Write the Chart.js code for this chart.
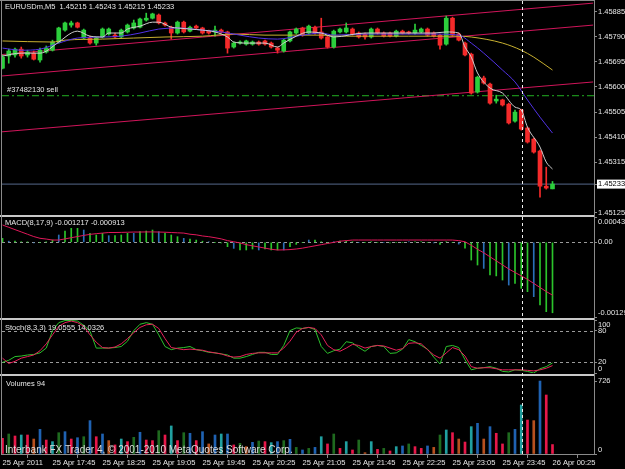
<!DOCTYPE html>
<html>
<head>
<meta charset="utf-8">
<script src="https://cdn.jsdelivr.net/npm/chart.js@4.4.1/dist/chart.umd.min.js"></script>
<style>
  html, body { margin: 0; padding: 0; background: #000; }
  #wrap { position: relative; width: 625px; height: 469px; background: #000; overflow: hidden; }
  #wrap canvas { position: absolute; left: 0; top: 0; }
</style>
</head>
<body>
<div id="wrap">
  <canvas id="cMain" width="625" height="469"></canvas>
  <canvas id="cMacd" width="625" height="469"></canvas>
  <canvas id="cStoch" width="625" height="469"></canvas>
  <canvas id="cVol" width="625" height="469"></canvas>
</div>
<script>
/* ---- data (EURUSDm M5, 25 Apr 17:05 -> 26 Apr 00:25) ---- */
const timeTickIdx = [0, 8, 16, 24, 32, 40, 48, 56, 64, 72, 80, 88];
const timeTickLabels = ['25 Apr 2011', '25 Apr 17:45', '25 Apr 18:25', '25 Apr 19:05', '25 Apr 19:45', '25 Apr 20:25',
  '25 Apr 21:05', '25 Apr 21:45', '25 Apr 22:25', '25 Apr 23:05', '25 Apr 23:45', '26 Apr 00:25'];

const opens = [
  1.45671,1.45717,1.45721,1.45743,1.45721,1.45728,1.45702,1.45732,1.45739,1.45770,
  1.45815,1.45834,1.45842,1.45785,1.45785,1.45766,1.45789,1.45800,1.45796,1.45789,
  1.45808,1.45823,1.45826,1.45853,1.45860,1.45872,1.45842,1.45826,1.45804,1.45845,
  1.45811,1.45830,1.45823,1.45811,1.45808,1.45815,1.45808,1.45751,1.45766,1.45762,
  1.45762,1.45770,1.45774,1.45766,1.45747,1.45736,1.45774,1.45804,1.45823,1.45804,
  1.45826,1.45808,1.45789,1.45751,1.45808,1.45808,1.45819,1.45804,1.45800,1.45789,
  1.45819,1.45804,1.45804,1.45792,1.45811,1.45808,1.45804,1.45808,1.45819,1.45804,
  1.45796,1.45762,1.45860,1.45800,1.45766,1.45724,1.45581,1.45634,1.45611,1.45547,
  1.45551,1.45535,1.45471,1.45513,1.45445,1.45403,1.45358,1.45225,1.45215];
const highs = [
  1.45721,1.45743,1.45747,1.45751,1.45739,1.45736,1.45747,1.45755,1.45777,1.45826,
  1.45845,1.45849,1.45845,1.45819,1.45792,1.45789,1.45823,1.45823,1.45804,1.45819,
  1.45838,1.45853,1.45860,1.45879,1.45879,1.45876,1.45845,1.45830,1.45849,1.45849,
  1.45830,1.45834,1.45826,1.45815,1.45830,1.45819,1.45811,1.45770,1.45774,1.45777,
  1.45774,1.45774,1.45777,1.45770,1.45751,1.45781,1.45811,1.45823,1.45826,1.45834,
  1.45830,1.45860,1.45792,1.45815,1.45823,1.45842,1.45823,1.45808,1.45804,1.45823,
  1.45823,1.45808,1.45808,1.45815,1.45815,1.45811,1.45838,1.45823,1.45823,1.45808,
  1.45800,1.45868,1.45864,1.45804,1.45770,1.45728,1.45641,1.45641,1.45615,1.45569,
  1.45554,1.45539,1.45513,1.45516,1.45448,1.45407,1.45362,1.45297,1.45243];
const lows = [
  1.45668,1.45690,1.45713,1.45709,1.45713,1.45702,1.45694,1.45728,1.45736,1.45766,
  1.45811,1.45826,1.45823,1.45781,1.45762,1.45758,1.45785,1.45796,1.45785,1.45785,
  1.45804,1.45819,1.45823,1.45849,1.45857,1.45838,1.45830,1.45781,1.45800,1.45804,
  1.45808,1.45819,1.45800,1.45800,1.45792,1.45804,1.45728,1.45747,1.45762,1.45758,
  1.45758,1.45758,1.45758,1.45747,1.45728,1.45732,1.45770,1.45800,1.45792,1.45800,
  1.45800,1.45781,1.45747,1.45747,1.45804,1.45804,1.45796,1.45785,1.45781,1.45785,
  1.45800,1.45789,1.45789,1.45789,1.45800,1.45800,1.45800,1.45804,1.45792,1.45789,
  1.45743,1.45758,1.45792,1.45774,1.45717,1.45573,1.45577,1.45611,1.45535,1.45539,
  1.45528,1.45460,1.45467,1.45437,1.45388,1.45350,1.45184,1.45214,1.45215];
const closes = [
  1.45713,1.45736,1.45743,1.45717,1.45732,1.45705,1.45739,1.45747,1.45770,1.45823,
  1.45842,1.45842,1.45826,1.45815,1.45766,1.45785,1.45819,1.45819,1.45789,1.45815,
  1.45834,1.45842,1.45857,1.45860,1.45876,1.45842,1.45834,1.45804,1.45845,1.45808,
  1.45826,1.45823,1.45804,1.45804,1.45815,1.45808,1.45747,1.45766,1.45770,1.45774,
  1.45770,1.45762,1.45762,1.45751,1.45739,1.45777,1.45808,1.45819,1.45796,1.45830,
  1.45804,1.45785,1.45751,1.45811,1.45819,1.45823,1.45800,1.45789,1.45789,1.45819,
  1.45804,1.45792,1.45792,1.45811,1.45804,1.45804,1.45815,1.45819,1.45796,1.45792,
  1.45758,1.45860,1.45796,1.45777,1.45721,1.45577,1.45637,1.45615,1.45539,1.45554,
  1.45532,1.45464,1.45505,1.45441,1.45392,1.45354,1.45225,1.45218,1.45233];

// moving averages, read at selected bars
const maFastBars = [0,3,6,9,11,12,14,16,17,19,20,22,24,25,27,28,30,32,34,36,37,39,42,44,45,47,49,51,53,58,64,69,71,73,74,75,76,78,80,82,83,84,86,87,88];
const maFast = [1.45717,1.45728,1.45728,1.45770,1.45804,1.45811,1.45792,1.45789,1.45804,1.45804,
  1.45819,1.45830,1.45845,1.45845,1.45826,1.45823,1.45819,1.45815,1.45808,1.45789,
  1.45770,1.45766,1.45766,1.45751,1.45766,1.45792,1.45808,1.45804,1.45789,1.45804,
  1.45804,1.45804,1.45808,1.45804,1.45751,1.45713,1.45653,1.45596,1.45577,1.45524,
  1.45513,1.45448,1.45373,1.45316,1.45290];
const maMidBars = [0,3,6,9,12,16,19,22,25,28,32,35,38,41,44,48,51,53,58,64,69,73,75,77,80,82,84,86,88];
const maMid = [1.45747,1.45739,1.45743,1.45766,1.45785,1.45789,1.45792,1.45804,1.45819,1.45823,
  1.45815,1.45808,1.45796,1.45785,1.45781,1.45796,1.45804,1.45796,1.45800,1.45800,
  1.45800,1.45796,1.45766,1.45728,1.45664,1.45619,1.45551,1.45486,1.45426];
const maSlowBars = [0,8,10,16,21,26,32,37,42,51,55,65,73,75,80,83,85,88];
const maSlow = [1.45774,1.45770,1.45777,1.45781,1.45785,1.45789,1.45792,1.45800,1.45796,1.45796,
  1.45792,1.45792,1.45792,1.45789,1.45766,1.45739,1.45713,1.45664];

// channel lines (price at left edge / right edge)
const chanX = [-0.4, 94.5];
const chanStart = [1.45722, 1.45641, 1.45430];
const chanEnd = [1.45917, 1.45834, 1.45619];
const orderPrice = 1.45567;
const bidPrice = 1.45233;
const cursorBar = 83.07;

const priceTicks = [1.45125, 1.45233, 1.45315, 1.45410, 1.45505, 1.45600, 1.45695, 1.45790, 1.45885];

const macdHist = [
  0.000069,0.00002,0.00002,0.00001,0.000005,-0.00001,0,0.000005,0.00004,0.000127,
  0.000196,0.000242,0.000242,0.000213,0.000156,0.000127,0.000156,0.000115,0.000115,0.000127,
  0.000156,0.000156,0.000184,0.000196,0.000213,0.000184,0.000156,0.000127,0.000098,0.000069,
  0.000058,0.00004,0.00002,0.00001,0,-0.00001,-0.000075,-0.000104,-0.000132,-0.000132,
  -0.000115,-0.000132,-0.000115,-0.000132,-0.000132,-0.000132,-0.000075,-0.000035,0,0.00004,
  0.00004,0.00001,-0.00001,0.00001,0.00002,0.00002,0.00001,0,0,0.00001,
  0,0,-0.00001,0,0,0.00001,0.00001,0.00001,0,-0.00001,
  -0.000035,0.00001,0,-0.00003,-0.0001,-0.000306,-0.000392,-0.00045,-0.000565,-0.00058,
  -0.000651,-0.000738,-0.000708,-0.000795,-0.000852,-0.000939,-0.001083,-0.001198,-0.001217];
const macdSignal = [
  0.00030,0.00026,0.00022,0.00018,0.00014,0.00010,0.00007,0.000057,0.00004,0.00004,
  0.00006,0.00008,0.0001,0.00012,0.000138,0.00015,0.00016,0.00017,0.00017,0.000172,
  0.000175,0.000178,0.000178,0.00018,0.00018,0.000178,0.000175,0.00017,0.000165,0.00016,
  0.00014,0.00013,0.00011,0.000098,0.00008,0.00006,0.00003,0.00001,-0.00001,-0.00004,
  -0.00006,-0.00008,-0.0001,-0.00012,-0.000132,-0.00013,-0.000125,-0.000115,-0.0001,-0.00008,
  -0.00006,-0.00004,-0.00002,0,0.00002,0.00003,0.00004,0.00004,0.00004,0.00004,
  0.00004,0.00004,0.00004,0.00004,0.00004,0.00004,0.00004,0.00004,0.00004,0.00004,
  0.00004,0.00004,0.00004,0.00003,0.00001,-0.00005,-0.00012,-0.00018,-0.00025,-0.00032,
  -0.00039,-0.00046,-0.00052,-0.00058,-0.00064,-0.00071,-0.00078,-0.00085,-0.000913];
const macdTicks = [-0.00129, 0, 0.000438];
const macdTickLabels = ['-0.00129', '0.00', '0.000438'];

const stochMain = [
  20,24,31,32,34,35,38,47,80,95,
  99,99,98,90,79,47,47,47,48,50,
  60,80,92,95,92,72,50,44,47,48,
  50,44,42,39,38,36,34,28,28,31,
  35,39,39,35,35,52,80,85,84,86,
  82,50,37,42,45,59,57,48,41,50,
  52,50,37,38,45,63,59,52,45,30,
  17,50,52,48,25,6,9,10,12,9,
  3,2,6,5,3,0,8,12,19];
const stochSignal = [
  28,18,22,28,31,34,42,55,72,88,
  95,98,95,88,72,58,48,47,49,55,
  65,76,86,91,92,84,65,48,46,44,
  45,44,43,40,38,36,32,30,31,35,
  37,38,38,38,38,47,60,77,84,86,
  84,72,52,44,41,47,54,52,47,50,
  52,51,47,43,46,56,57,55,44,34,
  28,38,48,44,32,12,9,10,10,8,
  6,6,6,6,5,4,6,9,14];
const stochTicks = [0, 20, 80, 100];
const stochLevels = [20, 80];

const volumes = [
  156,199,179,189,189,149,245,139,123,212,
  222,149,162,172,332,172,199,133,90,149,
  123,166,216,139,133,232,189,279,133,212,
  206,133,222,100,189,199,199,90,106,73,
  116,129,123,113,123,133,146,66,40,56,
  66,172,100,199,56,123,40,139,13,123,
  46,56,30,73,80,100,73,56,80,66,
  189,239,212,149,119,272,305,149,272,206,
  100,212,245,488,338,332,726,587,94];
const volTicks = [0, 726];

/* ---- styles ---- */
const UP = '#2ccf3c', DOWN = '#f42a2a';
const TXT = '#e6e6e6', AXIS = '#8a8a8a';
const FONT = '"Liberation Sans", Arial, sans-serif';
const volColorKeys = ('rgrtrobrtg' + 'brbgbrbort' + 'rgbrrgrtrg' + 'brbobtbrgo' + 'bgrtbgbgbg' +
  'btrgrtrgot' + 'rgrtbgrrbo' + 'gtrortbobr' + 'rgbtrobrr').split('');
const volPalette = { r: '#e8184a', g: '#1f6a1f', t: '#20a0a0', b: '#1f62b2', o: '#b8501e' };

const X_MIN = -0.08, X_MAX = 94.64;

Chart.defaults.font.family = FONT;
Chart.defaults.font.size = 7.5;
Chart.defaults.color = TXT;

const pts = (xs, ys) => xs.map((x, k) => ({ x, y: ys[k] }));
const perBar = (vals) => vals.map((v, i) => ({ x: i, y: v }));
const hline = (y) => [{ x: X_MIN, y }, { x: X_MAX, y }];

/* ---- decorations: dashed levels, captions, frame ---- */
const decor = {
  id: 'decor',
  beforeDatasetsDraw(chart, args, o) {
    const ctx = chart.ctx, a = chart.chartArea, ys = chart.scales.y;
    ctx.save();
    ctx.strokeStyle = '#9a9a9a'; ctx.lineWidth = 1; ctx.setLineDash([3, 3]);
    (o.levels || []).forEach(v => {
      const y = Math.round(ys.getPixelForValue(v)) + 0.5;
      ctx.beginPath(); ctx.moveTo(a.left, y); ctx.lineTo(a.right, y); ctx.stroke();
    });
    ctx.restore();
  },
  afterDraw(chart, args, o) {
    const ctx = chart.ctx;
    ctx.save();
    ctx.textBaseline = 'middle'; ctx.textAlign = 'left';
    (o.texts || []).forEach(t => {
      ctx.font = (t.size || 7.5) + 'px ' + FONT;
      ctx.fillStyle = t.color || TXT;
      const y = t.price !== undefined ? chart.scales.y.getPixelForValue(t.price) + t.dy : t.y;
      ctx.fillText(t.text, t.x, y);
    });
    if (o.frame) {
      ctx.fillStyle = '#c8c8c8';
      [215, 318, 374].forEach(y => ctx.fillRect(0, y, 594, 2));
      ctx.strokeStyle = AXIS; ctx.lineWidth = 1;
      ctx.beginPath();
      ctx.moveTo(1.5, 0); ctx.lineTo(1.5, 455);
      ctx.moveTo(0, 0.5); ctx.lineTo(594, 0.5);
      ctx.moveTo(594.5, 0); ctx.lineTo(594.5, 455);
      ctx.stroke();
      const cx = Math.round(chart.scales.x.getPixelForValue(cursorBar)) + 0.5;
      ctx.strokeStyle = '#eeeeee'; ctx.setLineDash([3, 3]);
      ctx.beginPath(); ctx.moveTo(cx, 1); ctx.lineTo(cx, 455); ctx.stroke();
    }
    ctx.restore();
  }
};

function xAxis(show) {
  return {
    type: 'linear', min: X_MIN, max: X_MAX, offset: false, display: show,
    grid: { display: show, drawOnChartArea: false, drawTicks: true, tickLength: 4, color: AXIS },
    border: { display: show, color: AXIS },
    afterBuildTicks: s => { s.ticks = timeTickIdx.map(v => ({ value: v })); },
    afterFit: s => { s.height = show ? 15 : 0; s.paddingLeft = 0; s.paddingRight = 0; },
    ticks: { align: 'start', padding: 0, maxRotation: 0, autoSkip: false, color: TXT,
      callback: (v, i) => timeTickLabels[i] }
  };
}

function yAxis(min, max, tickVals, labelFn, extraTicks) {
  return {
    type: 'linear', position: 'right', min, max,
    grid: { drawOnChartArea: false, drawTicks: true, tickLength: 3, color: AXIS },
    border: { display: true, color: AXIS },
    afterBuildTicks: s => { s.ticks = tickVals.map(v => ({ value: v })); },
    afterFit: s => { s.width = 31; s.paddingTop = 0; s.paddingBottom = 0; },
    ticks: Object.assign({ padding: 1, color: TXT, autoSkip: false, callback: labelFn }, extraTicks || {})
  };
}

function baseOptions(padTop, padBottom, scales, decorOpts) {
  return {
    responsive: false, animation: false, events: [],
    layout: { padding: { top: padTop, bottom: padBottom, left: 2, right: 0 } },
    plugins: { legend: { display: false }, tooltip: { enabled: false }, decor: decorOpts },
    scales
  };
}

const line = (data, color, extra) => Object.assign({
  type: 'line', data, borderColor: color, borderWidth: 1, pointRadius: 0, fill: false, tension: 0
}, extra || {});

/* ---- main price pane ---- */
const isBid = v => Math.abs(v - bidPrice) < 1e-9;
const candleColor = ctx => closes[ctx.dataIndex] >= opens[ctx.dataIndex] ? UP : DOWN;

new Chart(document.getElementById('cMain'), {
  type: 'bar',
  data: {
    datasets: [
      line(pts(maFastBars, maFast), '#cfcfcf', { order: 0, cubicInterpolationMode: 'monotone' }),
      line(pts(maMidBars, maMid), '#5232e6', { order: 0, cubicInterpolationMode: 'monotone' }),
      line(pts(maSlowBars, maSlow), '#c8b030', { order: 0, cubicInterpolationMode: 'monotone' }),
      { type: 'bar', order: 1, grouped: false, barThickness: 4, minBarLength: 1, borderWidth: 0,
        data: opens.map((o, i) => ({ x: i, y: [o, closes[i]] })), backgroundColor: candleColor },
      { type: 'bar', order: 2, grouped: false, barThickness: 1, minBarLength: 1, borderWidth: 0,
        data: lows.map((l, i) => ({ x: i, y: [l, highs[i]] })), backgroundColor: candleColor },
      ...chanStart.map((s, k) => line(pts(chanX, [s, chanEnd[k]]), '#d0155a', { order: 3 })),
      line(hline(orderPrice), '#22b022', { order: 4, borderDash: [7, 3, 2, 3] }),
      line(hline(bidPrice), '#56688c', { order: 4 })
    ]
  },
  options: baseOptions(1, 255, {
    x: xAxis(false),
    y: yAxis(1.45120, 1.45925, priceTicks, v => v.toFixed(5), {
      color: ctx => isBid(ctx.tick.value) ? '#000' : TXT,
      showLabelBackdrop: ctx => isBid(ctx.tick.value),
      backdropColor: '#ffffff',
      backdropPadding: { top: 0, bottom: 0, left: 1, right: 3 }
    })
  }, {
    texts: [
      { text: 'EURUSDm,M5  1.45215 1.45243 1.45215 1.45233', x: 5, y: 7 },
      { text: '#37482130 sell', x: 7, price: orderPrice, dy: -6 }
    ]
  }),
  plugins: [decor]
});

/* ---- MACD pane ---- */
new Chart(document.getElementById('cMacd'), {
  type: 'bar',
  data: {
    datasets: [
      line(perBar(macdSignal), '#e0185a', { order: 0 }),
      { type: 'bar', order: 1, grouped: false, barThickness: 1, borderWidth: 0, data: perBar(macdHist),
        backgroundColor: ctx => ctx.dataIndex % 4 === 1 ? '#2a6fb8' : '#2bc42b' }
    ]
  },
  options: baseOptions(217, 152, {
    x: xAxis(false),
    y: yAxis(-0.00129, 0.000438, macdTicks, (v, i) => {
      const s = macdTickLabels[i];
      if (i === 0) return [s, ''];
      if (i === macdTicks.length - 1) return ['', s];
      return s;
    })
  }, {
    levels: [0],
    texts: [{ text: 'MACD(8,17,9) -0.001217 -0.000913', x: 5, y: 223 }]
  }),
  plugins: [decor]
});

/* ---- Stochastic pane ---- */
new Chart(document.getElementById('cStoch'), {
  type: 'line',
  data: {
    datasets: [
      line(perBar(stochSignal), '#e8205a'),
      line(perBar(stochMain), '#2cc02c')
    ]
  },
  options: baseOptions(320, 96, {
    x: xAxis(false),
    y: yAxis(0, 100, stochTicks, (v, i) => {
      const s = String(v);
      if (i === 0) return [s, ''];
      if (i === stochTicks.length - 1) return ['', s];
      return s;
    })
  }, {
    levels: stochLevels,
    texts: [{ text: 'Stoch(8,3,3) 19.0555 14.0326', x: 5, y: 328 }]
  }),
  plugins: [decor]
});

/* ---- Volumes pane (+ time axis, frame) ---- */
new Chart(document.getElementById('cVol'), {
  type: 'bar',
  data: {
    datasets: [
      { type: 'bar', grouped: false, barThickness: 2, borderWidth: 0, data: perBar(volumes),
        backgroundColor: ctx => volPalette[volColorKeys[ctx.dataIndex]] }
    ]
  },
  options: baseOptions(376, 0, {
    x: xAxis(true),
    y: yAxis(0, 776, volTicks, (v, i) => i === 0 ? [String(v), ''] : String(v))
  }, {
    frame: true,
    texts: [
      { text: 'Volumes 94', x: 6, y: 383.5 },
      { text: 'Interbank FX Trader 4, \u00a9 2001-2010 MetaQuotes Software Corp.', x: 5, y: 450.5, size: 10, color: '#dcdcdc' }
    ]
  }),
  plugins: [decor]
});
</script>
</body>
</html>
